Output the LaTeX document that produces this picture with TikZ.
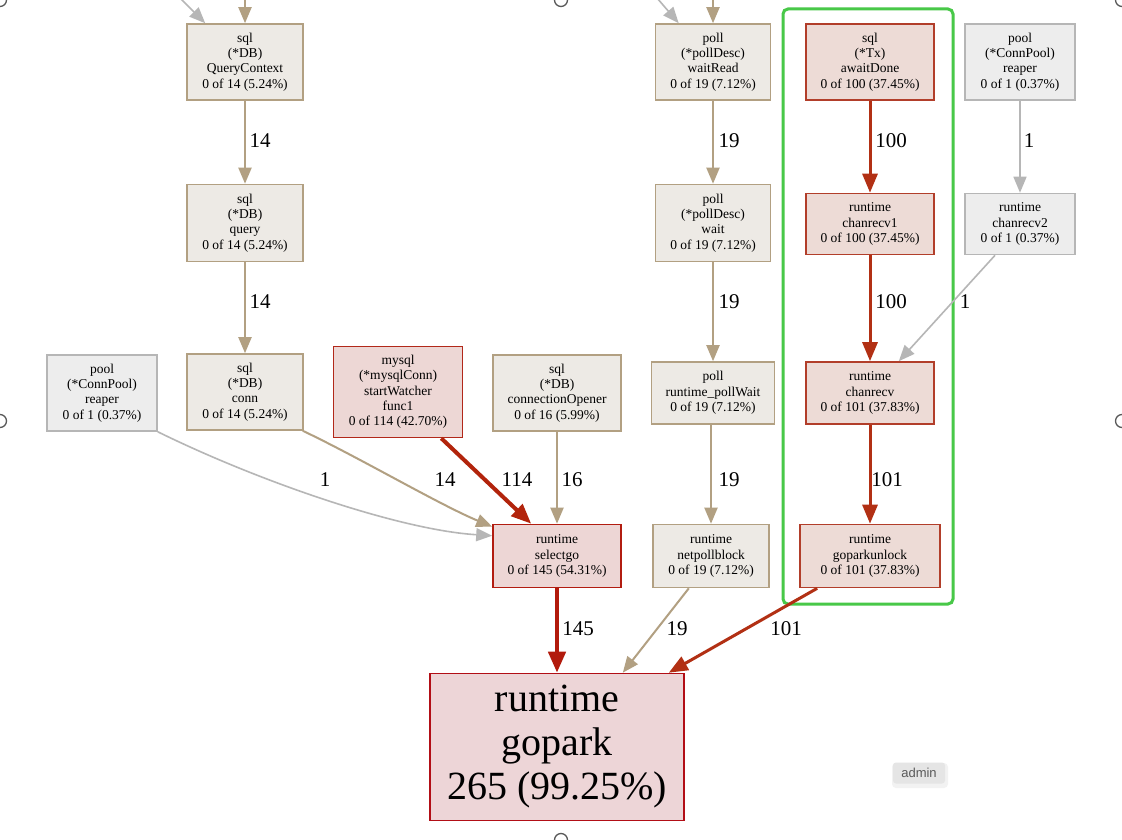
\documentclass[tikz,border=0pt]{standalone}
\usepackage{fontspec}
\setmainfont{Liberation Serif}
\newfontfamily\uifont{Liberation Sans}
\usetikzlibrary{arrows.meta}
\definecolor{tanline}{RGB}{178,160,130}
\definecolor{tanfill}{RGB}{237,234,229}
\definecolor{grayline}{RGB}{182,182,182}
\definecolor{grayfill}{RGB}{237,237,237}
\definecolor{redAline}{RGB}{178,62,42}
\definecolor{redAfill}{RGB}{237,219,214}
\definecolor{redBline}{RGB}{178,40,26}
\definecolor{redBfill}{RGB}{237,215,213}
\definecolor{redCline}{RGB}{178,28,16}
\definecolor{redCfill}{RGB}{237,214,213}
\definecolor{redDline}{RGB}{178,14,22}
\definecolor{redDfill}{RGB}{237,213,215}
\definecolor{edgeA}{RGB}{178,48,20}
\definecolor{edgeB}{RGB}{178,36,12}
\definecolor{edgeC}{RGB}{178,26,12}
\definecolor{grn}{RGB}{72,200,72}
\definecolor{handle}{RGB}{90,90,90}
\tikzset{
  fn/.style={draw, rectangle, align=center, inner sep=0pt, line width=1.6pt,
    font=\fontsize{13.5}{15.3}\selectfont},
  tannode/.style={fn, fill=tanfill, draw=tanline},
  graynode/.style={fn, fill=grayfill, draw=grayline},
  redA/.style={fn, fill=redAfill, draw=redAline},
  redB/.style={fn, fill=redBfill, draw=redBline},
  redC/.style={fn, fill=redCfill, draw=redCline},
  bignode/.style={draw=redDline, fill=redDfill, rectangle, align=center, inner sep=0pt,
    line width=1.6pt, font=\fontsize{40}{44}\selectfont},
  lbl/.style={font=\fontsize{21}{24}\selectfont, inner sep=0pt},
  tanedge/.style={draw=tanline, line width=2pt, -{Triangle[length=16pt,width=13pt]}},
  grayedge/.style={draw=grayline, line width=1.6pt, -{Triangle[length=16pt,width=13pt]}},
  redthin/.style={draw=edgeA, line width=3pt, -{Triangle[length=19pt,width=15pt]}},
  redmid/.style={draw=edgeB, line width=4pt, -{Triangle[length=20pt,width=16pt]}},
  redthick/.style={draw=edgeC, line width=4.5pt, -{Triangle[length=21pt,width=17pt]}},
  hdl/.style={draw=handle, line width=1.3pt, fill=white, circle, minimum size=13pt, inner sep=0pt},
}
\begin{document}
\begin{tikzpicture}[x=1pt,y=-1pt]
\useasboundingbox (0,0) rectangle (1122,840);
\fill[white] (0,0) rectangle (1122,840);

% green highlight box
\draw[grn, line width=3pt, rounded corners=5pt] (783,9) rectangle (953,604);

% nodes
\node[tannode, minimum width=116pt, minimum height=76pt] (qc) at (245,62) {sql\\(*DB)\\QueryContext\\0 of 14 (5.24\%)};
\node[tannode, minimum width=116pt, minimum height=77pt] (qy) at (245,223) {sql\\(*DB)\\query\\0 of 14 (5.24\%)};
\node[tannode, minimum width=116pt, minimum height=76pt] (cn) at (245,392) {sql\\(*DB)\\conn\\0 of 14 (5.24\%)};
\node[graynode, minimum width=110pt, minimum height=76pt] (prl) at (102,393) {pool\\(*ConnPool)\\reaper\\0 of 1 (0.37\%)};
\node[redB, minimum width=129pt, minimum height=91pt] (ms) at (398,392) {mysql\\(*mysqlConn)\\startWatcher\\func1\\0 of 114 (42.70\%)};
\node[tannode, minimum width=128pt, minimum height=76pt] (co) at (557,393) {sql\\(*DB)\\connectionOpener\\0 of 16 (5.99\%)};
\node[redC, minimum width=128pt, minimum height=63pt] (sg) at (557,556) {runtime\\selectgo\\0 of 145 (54.31\%)};
\node[tannode, minimum width=115pt, minimum height=76pt] (wr) at (713,62) {poll\\(*pollDesc)\\waitRead\\0 of 19 (7.12\%)};
\node[tannode, minimum width=115pt, minimum height=77pt] (wt) at (713,223) {poll\\(*pollDesc)\\wait\\0 of 19 (7.12\%)};
\node[tannode, minimum width=123pt, minimum height=62pt] (pw) at (713,393) {poll\\runtime\_pollWait\\0 of 19 (7.12\%)};
\node[tannode, minimum width=116pt, minimum height=63pt] (nb) at (711,556) {runtime\\netpollblock\\0 of 19 (7.12\%)};
\node[redA, minimum width=128pt, minimum height=76pt] (ad) at (870,62) {sql\\(*Tx)\\awaitDone\\0 of 100 (37.45\%)};
\node[redA, minimum width=128pt, minimum height=61pt] (c1) at (870,224) {runtime\\chanrecv1\\0 of 100 (37.45\%)};
\node[redA, minimum width=128pt, minimum height=62pt] (cr) at (870,393) {runtime\\chanrecv\\0 of 101 (37.83\%)};
\node[redA, minimum width=140pt, minimum height=63pt] (gu) at (870,556) {runtime\\goparkunlock\\0 of 101 (37.83\%)};
\node[graynode, minimum width=110pt, minimum height=76pt] (prr) at (1020,62) {pool\\(*ConnPool)\\reaper\\0 of 1 (0.37\%)};
\node[graynode, minimum width=110pt, minimum height=61pt] (c2) at (1020,224) {runtime\\chanrecv2\\0 of 1 (0.37\%)};
\node[bignode, minimum width=254pt, minimum height=147pt] (gp) at (557,747) {runtime\\gopark\\265 (99.25\%)};

% free ends at the top
\coordinate (t1) at (245,-2);
\coordinate (t2) at (180,-2);
\coordinate (t3) at (713,-2);
\coordinate (t4) at (657,-2);

% edges
\draw[tanedge] (t1) -- (qc.north);
\draw[grayedge] (t2) -- ([xshift=19pt]qc.north west);
\draw[tanedge] (t3) -- (wr.north);
\draw[grayedge] (t4) -- ([xshift=24pt]wr.north west);

\draw[tanedge] (qc.south) -- (qy.north);
\draw[tanedge] (qy.south) -- (cn.north);
\draw[grayedge] (prl.south east) .. controls (260,482) and (400,530) .. ([yshift=-12pt]sg.north west);
\draw[tanedge] ([xshift=-1pt]cn.south east) .. controls (360,458) and (440,505) .. ([yshift=-3pt]sg.north west);
\draw[redmid] ([xshift=-22pt]ms.south east) -- ([xshift=39pt]sg.north west);
\draw[tanedge] (co.south) -- (sg.north);

\draw[tanedge] (wr.south) -- (wt.north);
\draw[tanedge] (wt.south) -- (pw.north);
\draw[tanedge] ([xshift=-2pt]pw.south) -- (nb.north);

\draw[redthin] (ad.south) -- (c1.north);
\draw[redthin] (c1.south) -- (cr.north);
\draw[redthin] (cr.south) -- (gu.north);

\draw[grayedge] (prr.south) -- (c2.north);
\draw[grayedge] ([xshift=-25pt]c2.south) -- ([xshift=-36pt]cr.north east);

\draw[redthick] (sg.south) -- (gp.north);
\draw[tanedge] ([xshift=-81pt]nb.south east) -- ([xshift=-62pt]gp.north east);
\draw[redthin] ([xshift=18pt]gu.south west) -- ([xshift=-16pt]gp.north east);

% edge labels
\node[lbl] (l1) at (260,141) {14};
\node[lbl] (l2) at (260,302) {14};
\node[lbl] (l3) at (325,480) {1};
\node[lbl] (l4) at (445,480) {14};
\node[lbl] (l5) at (517,480) {114};
\node[lbl] (l6) at (572,480) {16};
\node[lbl] (l7) at (729,141) {19};
\node[lbl] (l8) at (729,302) {19};
\node[lbl] (l9) at (729,480) {19};
\node[lbl] (l10) at (891,141) {100};
\node[lbl] (l11) at (891,302) {100};
\node[lbl] (l12) at (887,480) {101};
\node[lbl] (l13) at (1029,141) {1};
\node[lbl] (l14) at (965,302) {1};
\node[lbl] (l15) at (578,629) {145};
\node[lbl] (l16) at (677,629) {19};
\node[lbl] (l17) at (786,629) {101};

% admin button
\fill[black!5, rounded corners=4pt] (892,763) rectangle (948,788);
\node[fill=black!10, rounded corners=3pt, minimum width=52pt, minimum height=21pt, inner sep=0pt,
  font=\uifont\fontsize{13}{15}\selectfont, text=black!65] (admin) at (919,773) {admin};

% selection handles
\node[hdl] (h1) at (0,0) {};
\node[hdl] (h2) at (561,0) {};
\node[hdl] (h3) at (1122,0) {};
\node[hdl] (h4) at (0,421) {};
\node[hdl] (h5) at (1122,421) {};
\node[hdl] (h6) at (561,840) {};
\end{tikzpicture}
\end{document}
